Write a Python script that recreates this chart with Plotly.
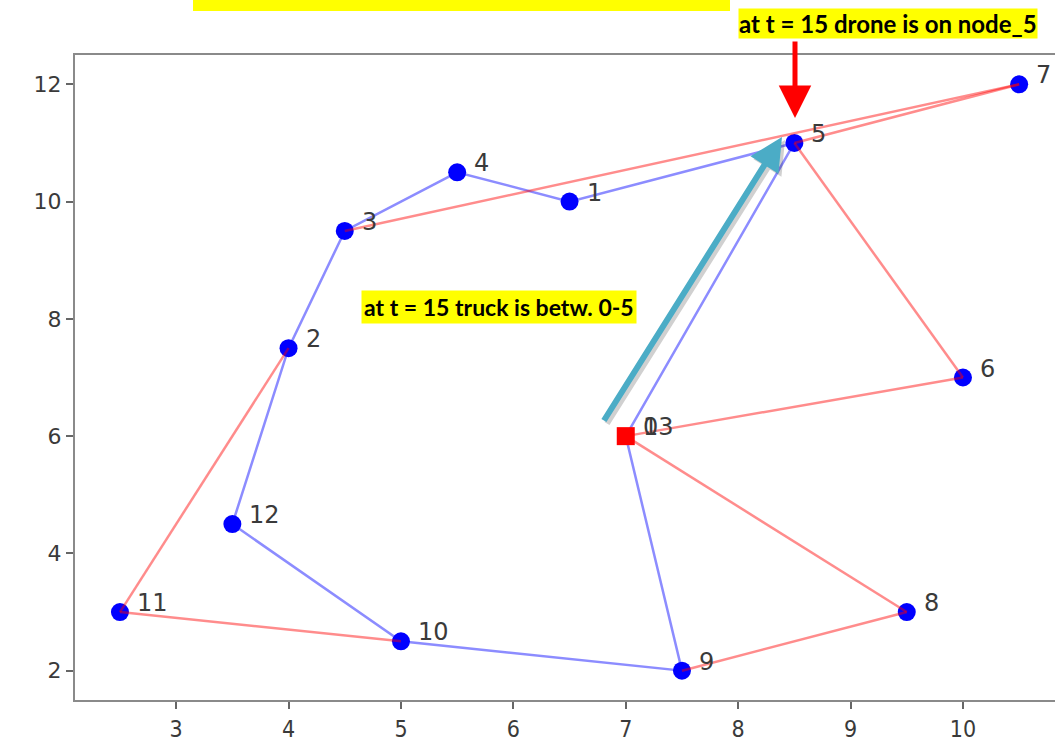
import plotly.graph_objects as go

# ---- data ----
node_ids = list(range(14))
node_x = [7, 6.5, 4, 4.5, 5.5, 8.5, 10, 10.5, 9.5, 7.5, 5, 2.5, 3.5, 7]
node_y = [6, 10, 7.5, 9.5, 10.5, 11, 7, 12, 3, 2, 2.5, 3, 4.5, 6]
truck_route = [0, 5, 1, 4, 3, 2, 12, 10, 9, 13]
drone_edges = [(5, 7), (7, 3), (5, 6), (6, 0), (0, 8), (8, 9), (2, 11), (11, 10)]
depot = 0
x_ticks = [3, 4, 5, 6, 7, 8, 9, 10]
y_ticks = [2, 4, 6, 8, 10, 12]
note_drone = "at t = 15 drone is on node_5"
note_truck = "at t = 15 truck is betw. 0-5"

W, H = 1055, 753
ML, MR, MT, MB = 75, 0, 55, 53
PW, PH = W - ML - MR, H - MT - MB


def px(xp):
    return (xp - ML) / PW


def py(yp):
    return (H - MB - yp) / PH


fig = go.Figure()

# customer markers
cust = [i for i in node_ids if i not in (0, 13)]
fig.add_trace(go.Scatter(
    x=[node_x[i] for i in cust], y=[node_y[i] for i in cust],
    mode="markers", marker=dict(color="#0000ff", size=18),
    hoverinfo="skip", showlegend=False))

# truck route (blue)
tx = [node_x[i] for i in truck_route]
ty = [node_y[i] for i in truck_route]
fig.add_trace(go.Scatter(x=tx, y=ty, mode="lines",
                         line=dict(color="rgba(0,0,255,0.45)", width=2.5),
                         hoverinfo="skip", showlegend=False))

# drone edges (red)
dx, dy = [], []
for a, b in drone_edges:
    dx += [node_x[a], node_x[b], None]
    dy += [node_y[a], node_y[b], None]
fig.add_trace(go.Scatter(x=dx, y=dy, mode="lines",
                         line=dict(color="rgba(255,0,0,0.45)", width=2.5),
                         hoverinfo="skip", showlegend=False))

# depot
fig.add_trace(go.Scatter(x=[node_x[depot]], y=[node_y[depot]], mode="markers",
                         marker=dict(color="#ff0000", size=18, symbol="square"),
                         hoverinfo="skip", showlegend=False))

annotations = []
for i in node_ids:
    annotations.append(dict(
        x=node_x[i], y=node_y[i], xref="x", yref="y", text=str(i),
        showarrow=False, xanchor="left", yanchor="middle",
        xshift=15, yshift=9,
        font=dict(family="DejaVu Sans", size=24, color="#3a3a3a")))


def arrow(tip, tail, width, color, size):
    return dict(x=px(tip[0]), y=py(tip[1]), xref="paper", yref="paper",
                ax=tail[0] - tip[0], ay=tail[1] - tip[1],
                axref="pixel", ayref="pixel",
                text="", showarrow=True, arrowhead=2, arrowsize=size,
                arrowwidth=width, arrowcolor=color)


# teal arrow shadow + arrow, red arrow
annotations.append(arrow((785, 140), (606, 425), 6, "rgba(0,0,0,0.18)", 1.1))
annotations.append(arrow((782, 137), (603, 422), 6, "#4BACC6", 1.1))
annotations.append(arrow((795, 118), (795, 40), 5, "#ff0000", 1.3))

note_font = dict(family="Lato, Open Sans, sans-serif", size=24, color="#000000")
annotations.append(dict(x=px(888), y=py(24), xref="paper", yref="paper",
                        text="<b>%s</b>" % note_drone, showarrow=False,
                        xanchor="center", yanchor="middle", bgcolor="#ffff00",
                        borderpad=0, font=note_font))
annotations.append(dict(x=px(499), y=py(307), xref="paper", yref="paper",
                        text="<b>%s</b>" % note_truck, showarrow=False,
                        xanchor="center", yanchor="middle", bgcolor="#ffff00",
                        borderpad=2, font=dict(note_font, size=23)))

shapes = [
    # cropped yellow highlight of a title at the top edge
    dict(type="rect", xref="paper", yref="paper",
         x0=px(193), x1=px(730), y0=py(11), y1=py(-2),
         fillcolor="#ffff00", line=dict(width=0), layer="above"),
]

fig.update_layout(
    width=W, height=H,
    margin=dict(l=ML, r=MR, t=MT, b=MB),
    paper_bgcolor="white", plot_bgcolor="white",
    showlegend=False,
    annotations=annotations, shapes=shapes,
    xaxis=dict(range=[2.1, 2.1 + PW / 112.4], tickvals=x_ticks,
               ticktext=[str(v) for v in x_ticks],
               showgrid=False, zeroline=False,
               showline=True, linecolor="#8a8a8a", linewidth=2, mirror=True,
               ticks="outside", ticklen=7, tickcolor="#666666", tickwidth=1.5,
               tickfont=dict(family="DejaVu Sans Condensed, Liberation Sans Narrow, DejaVu Sans",
                             size=23, color="#3a3a3a")),
    yaxis=dict(range=[1.5, 12.5], tickvals=y_ticks,
               ticktext=[str(v) for v in y_ticks],
               showgrid=False, zeroline=False,
               showline=True, linecolor="#8a8a8a", linewidth=2, mirror=False,
               ticks="outside", ticklen=7, tickcolor="#666666", tickwidth=1.5,
               tickfont=dict(family="DejaVu Sans", size=22, color="#3a3a3a")),
)

fig.write_html("out.html",
               config={"displayModeBar": False},
               post_script="document.body.style.margin='0';"
                           "document.body.style.overflow='hidden';")
